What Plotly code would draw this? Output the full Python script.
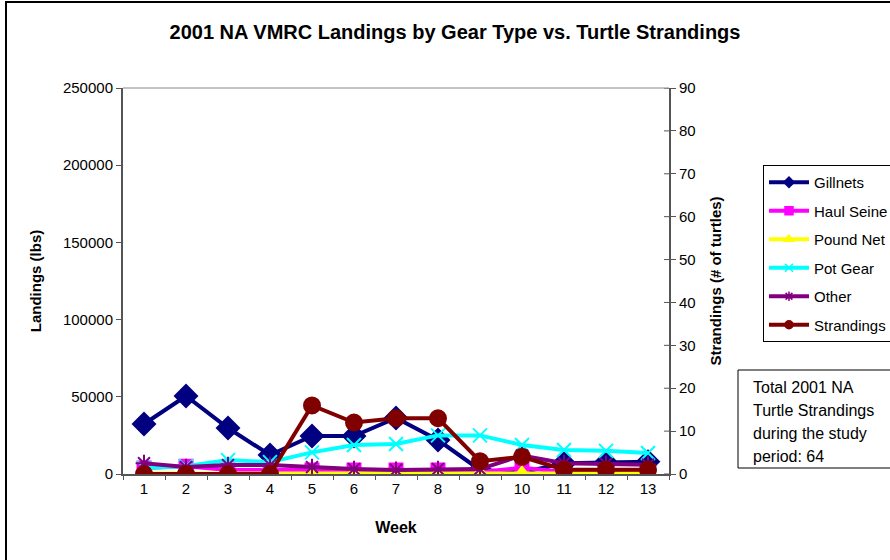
import plotly.graph_objects as go

weeks = list(range(1, 14))
week_labels = [str(w) for w in weeks]
gillnets   = [32400, 50500, 29800, 12300, 24600, 24600, 36300, 22000, 2600, 1000, 7000, 7500, 8000]
haul_seine = [3900, 5000, 2600, 2600, 2600, 2600, 2600, 2600, 1300, 4000, 1300, 1300, 1300]
pound_net  = [300, 300, 300, 300, 300, 300, 300, 300, 300, 300, 300, 300, 300]
pot_gear   = [3900, 5000, 9000, 7700, 14000, 18800, 19400, 25000, 25000, 18800, 15500, 15000, 13600]
other      = [7000, 4500, 5800, 5800, 4500, 3200, 2600, 3200, 3200, 12000, 7000, 6500, 6000]
strandings = [0, 0, 0, 0, 16, 12, 13, 13, 3, 4, 1, 1, 1]
left_ticks = [0, 50000, 100000, 150000, 200000, 250000]
right_ticks = list(range(0, 91, 10))

W, H = 890, 560
L, R, T, B = 123, 669, 88, 474
pw, ph = R - L, B - T
def px(x):
    return (x - L) / pw
def py(y):
    return (B - y) / ph

FONT = "Liberation Sans, Arial, sans-serif"
fig = go.Figure()

series = [
    ("Gillnets", gillnets, "#000080", "diamond", 17, "y"),
    ("Haul Seine", haul_seine, "#FF00FF", "square", 13, "y"),
    ("Pound Net", pound_net, "#FFFF00", "triangle-up", 14, "y"),
    ("Pot Gear", pot_gear, "#00FFFF", "x-thin-open", 14, "y"),
    ("Other", other, "#800080", "asterisk-open", 14, "y"),
    ("Strandings", strandings, "#800000", "circle", 16, "y2"),
]
for name, vals, col, sym, sz, ax in series:
    fig.add_trace(go.Scatter(
        x=weeks, y=vals, name=name, mode="lines+markers",
        line=dict(color=col, width=4),
        marker=dict(symbol=sym, size=sz, color=col, line=dict(color=col, width=2)),
        legendgroup=name, yaxis=ax, showlegend=False,
    ))
# legend entries with smaller legend markers
for name, vals, col, sym, sz, ax in series:
    fig.add_trace(go.Scatter(
        x=[None], y=[None], name=name, mode="lines+markers",
        line=dict(color=col, width=4),
        marker=dict(symbol=sym, size=8, color=col, line=dict(color=col, width=1.5)),
        legendgroup=name, yaxis=ax, showlegend=True,
    ))

axcol = "#555555"
fig.update_layout(
    width=W, height=H,
    margin=dict(l=L, r=W - R, t=T, b=H - B, autoexpand=False),
    paper_bgcolor="white", plot_bgcolor="white",
    font=dict(family=FONT, size=14, color="black"),
    title=dict(text="<b>2001 NA VMRC Landings by Gear Type vs. Turtle Strandings</b>",
               x=455 / W, xanchor="center", y=1 - 32 / H, yanchor="middle",
               font=dict(size=20, family=FONT)),
    xaxis=dict(
        range=[0.5, 13.5], tickvals=weeks, ticktext=week_labels, ticks="",
        showline=True, linecolor=axcol, linewidth=2, mirror=False,
        showgrid=False, zeroline=False,
        tickfont=dict(size=15),
        minor=dict(tickvals=[w + 0.5 for w in range(0, 14)], ticks="outside",
                   ticklen=4, tickcolor=axcol, tickwidth=1),
        title=dict(text="<b>Week</b>", font=dict(size=16), standoff=26),
    ),
    yaxis=dict(
        range=[0, 250000], tickvals=left_ticks, ticktext=[str(v) for v in left_ticks],
        ticks="outside", ticklen=5, tickcolor=axcol,
        showline=True, linecolor=axcol, linewidth=2,
        showgrid=False, zeroline=False, tickfont=dict(size=15),
        title=dict(text="<b>Landings (lbs)</b>", font=dict(size=15), standoff=18),
    ),
    yaxis2=dict(
        range=[0, 90], tickvals=right_ticks, overlaying="y", side="right",
        ticks="outside", ticklen=5, tickcolor=axcol,
        showline=True, linecolor=axcol, linewidth=2,
        showgrid=False, zeroline=False, tickfont=dict(size=15),
        title=dict(text="<b>Strandings (# of turtles)</b>", font=dict(size=15), standoff=16),
    ),
    legend=dict(
        x=px(763), y=py(165), xanchor="left", yanchor="top",
        bordercolor="black", borderwidth=1, bgcolor="white",
        font=dict(size=15, family=FONT), tracegroupgap=6,
        traceorder="grouped", itemwidth=40,
    ),
    showlegend=True,
)

shapes = [
    dict(type="line", xref="paper", yref="paper", x0=0, x1=1, y0=1, y1=1,
         line=dict(color="#888888", width=1)),
    dict(type="rect", xref="paper", yref="paper", x0=px(738), x1=px(895), y0=py(370), y1=py(468),
         line=dict(color="black", width=1), fillcolor="white", layer="below"),
    dict(type="rect", xref="paper", yref="paper", x0=px(6), x1=px(900), y0=py(2), y1=py(600),
         line=dict(color="black", width=2)),
]
for v in right_ticks:
    shapes.append(dict(type="line", xref="paper", yref="y2", x0=1 - 5 / pw, x1=1, y0=v, y1=v,
                       line=dict(color=axcol, width=1)))
fig.update_layout(shapes=shapes)

note_lines = ["Total 2001 NA", "Turtle Strandings", "during the study", "period: 64"]
for i, t in enumerate(note_lines):
    fig.add_annotation(text=t, xref="paper", yref="paper", x=px(751), y=py(387 + 23 * i),
                       xanchor="left", yanchor="middle", showarrow=False,
                       font=dict(size=16, family=FONT, color="black"))

fig.write_html("out.html", config={"displayModeBar": False},
               post_script="document.body.style.margin='0';")
